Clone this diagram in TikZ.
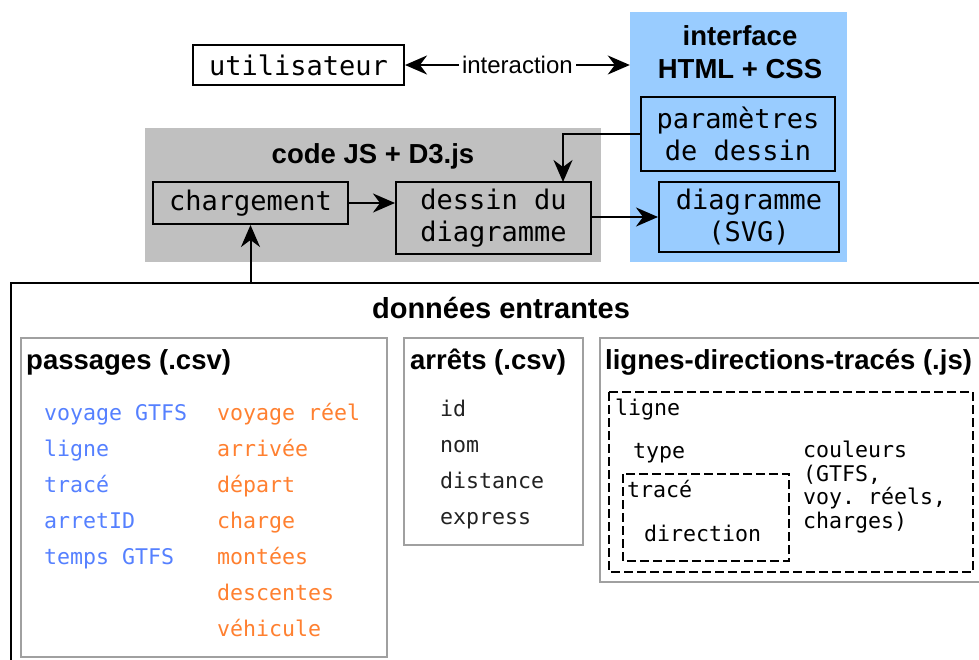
\documentclass[tikz,border=0pt]{standalone}
\usepackage{fontspec}
\setmainfont{Liberation Sans}
\setmonofont{DejaVu Sans Mono}
\usetikzlibrary{arrows.meta}
\definecolor{panelblue}{RGB}{153,204,255}
\definecolor{panelgray}{RGB}{192,192,192}
\definecolor{txtblue}{RGB}{85,128,255}
\definecolor{txtorange}{RGB}{255,128,48}
\definecolor{boxgray}{RGB}{160,160,160}
\definecolor{txtdark}{RGB}{34,34,34}
\tikzset{
  bigmono/.style={font=\ttfamily\fontsize{27}{32}\selectfont},
  smallmono/.style={font=\ttfamily\fontsize{21.6}{23.4}\selectfont},
  boldtitle/.style={font=\bfseries\fontsize{27.5}{33}\selectfont, inner sep=0pt},
  codebox/.style={draw=black, line width=2pt, bigmono, align=center, inner sep=0pt},
  panel/.style={draw=none, inner sep=0pt},
  databox/.style={draw=boxgray, line width=1.6pt},
  dashbox/.style={draw=black, line width=1.6pt, dash pattern=on 9pt off 4pt},
  arr/.style={line width=2pt, -{Stealth[length=22pt,width=19pt,inset=7pt]}},
  darr/.style={line width=2pt, {Stealth[length=22pt,width=19pt,inset=7pt]}-{Stealth[length=22pt,width=19pt,inset=7pt]}},
  item/.style={smallmono, anchor=base west, inner sep=0pt},
}
\begin{document}
\begin{tikzpicture}[x=1pt,y=-1pt]
\useasboundingbox (0,0) rectangle (979,659);
\clip (0,0) rectangle (979,659);

% panels
\node[panel, fill=panelblue, minimum width=217pt, minimum height=250pt] (iface) at (738.5,137) {};
\node[panel, fill=panelgray, minimum width=456pt, minimum height=134pt] (code) at (373,195) {};
\node[boldtitle, align=center] (ifacetitle) at (740,52) {interface\\HTML + CSS};
\node[boldtitle, anchor=base] (codetitle) at (373,163) {code JS + D3.js};

% boxes
\node[codebox, fill=white, minimum width=211pt, minimum height=40pt] (util) at (298.5,65) {utilisateur};
\node[codebox, fill=panelblue, minimum width=194pt, minimum height=74pt] (param) at (738,134) {paramètres\\de dessin};
\node[codebox, fill=panelblue, minimum width=180pt, minimum height=70pt] (diag) at (749,217) {diagramme\\(SVG)};
\node[codebox, fill=panelgray, minimum width=195pt, minimum height=42pt] (charg) at (250.5,203) {chargement};
\node[codebox, fill=panelgray, minimum width=195pt, minimum height=72pt] (dessin) at (493.5,218) {dessin du\\diagramme};

% connectors
\draw[arr] (charg.east) -- (charg.east -| dessin.west);
\draw[arr] (diag.west -| dessin.east) -- (diag.west);
\coordinate (pd) at (563,182);
\draw[arr] (param.west) -| (pd);
\draw[darr] (util.east) -- (util.east -| iface.west)
  node[midway, fill=white, inner sep=3pt, font=\fontsize{24}{28}\selectfont] (inter) {interaction};

% données entrantes
\draw[line width=2pt] (11,283) rectangle (1000,700);
\coordinate (dtop) at (250.5,283);
\draw[arr] (dtop) -- (charg.south);
\node[boldtitle, anchor=base, font=\bfseries\fontsize{29}{34}\selectfont] (dtitle) at (501,318) {données entrantes};

% passages
\draw[databox] (21,338) rectangle (387,657);
\node[boldtitle, anchor=base west] (ptitle) at (26,369) {passages (.csv)};
\foreach \t [count=\i from 0] in {voyage GTFS, ligne, tracé, arretID, temps GTFS}
  \node[item, text=txtblue] (pb\i) at (44,420+36*\i) {\t};
\foreach \t [count=\i from 0] in {voyage réel, arrivée, départ, charge, montées, descentes, véhicule}
  \node[item, text=txtorange] (po\i) at (217,420+36*\i) {\t};

% arrêts
\draw[databox] (404,338) rectangle (583,545);
\node[boldtitle, anchor=base west] (atitle) at (410,369) {arrêts (.csv)};
\foreach \t [count=\i from 0] in {id, nom, distance, express}
  \node[item, text=txtdark] (a\i) at (440,416+36*\i) {\t};

% lignes-directions-tracés
\draw[databox] (600,338) rectangle (1000,582);
\node[boldtitle, anchor=base west] (ltitle) at (605,369) {lignes-directions-tracés (.js)};
\draw[dashbox] (609,392) rectangle (973,572);
\node[item] (lligne) at (615,415) {ligne};
\node[item] (ltype) at (633,458) {type};
\node[item, align=left] (lcoul) at (803,528) {couleurs\\(GTFS,\\voy. réels,\\charges)};
\draw[dashbox] (623,474) rectangle (789,561);
\node[item] (ltrace) at (627,497) {tracé};
\node[item] (ldir) at (644,541) {direction};
\end{tikzpicture}
\end{document}
